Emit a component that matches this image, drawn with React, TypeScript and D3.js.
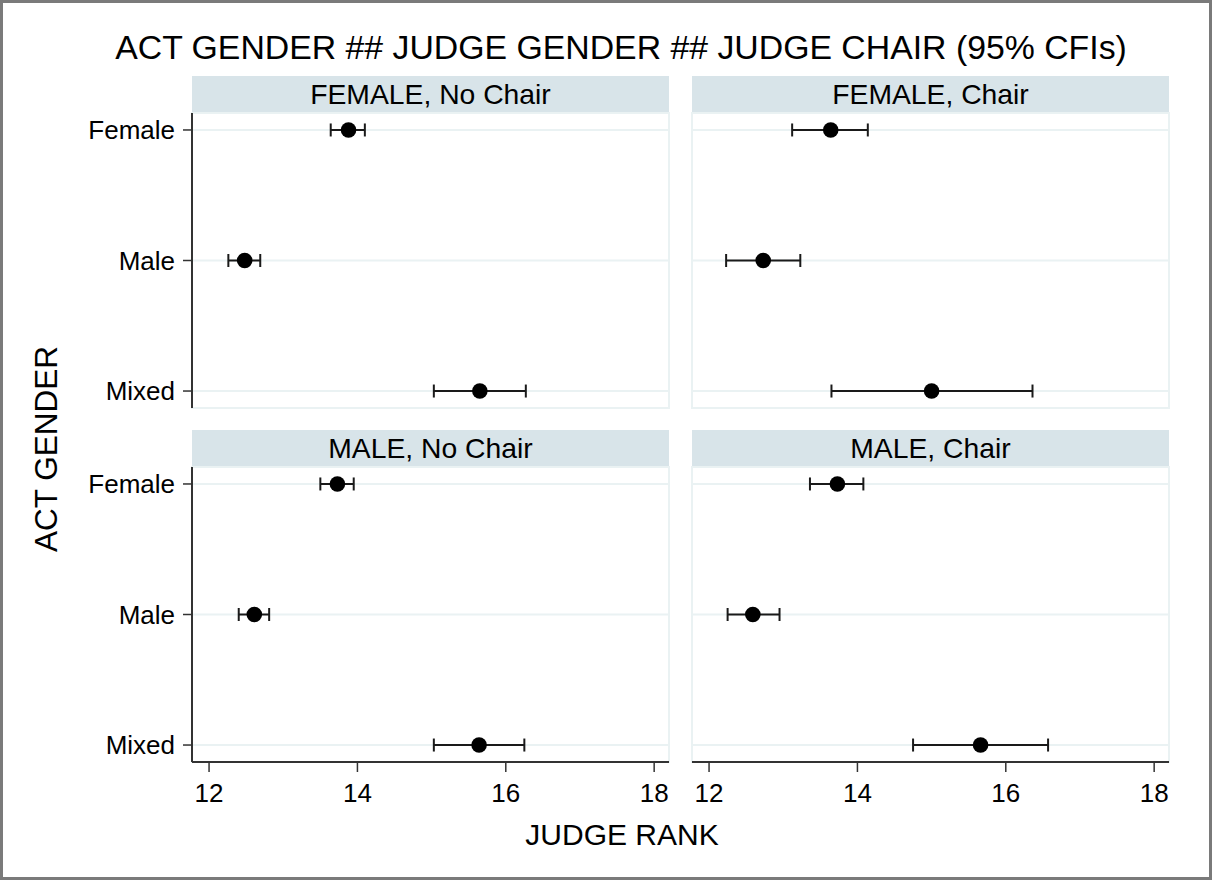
import React from "react";
import * as d3 from "d3";

const categories = ["Female", "Male", "Mixed"];
const panelTitles = ["FEMALE, No Chair", "FEMALE, Chair", "MALE, No Chair", "MALE, Chair"];
const estFemaleNoChair = [13.88, 12.48, 15.65];
const loFemaleNoChair = [13.64, 12.26, 15.03];
const hiFemaleNoChair = [14.1, 12.69, 16.27];
const estFemaleChair = [13.64, 12.73, 15.0];
const loFemaleChair = [13.12, 12.23, 13.65];
const hiFemaleChair = [14.14, 13.23, 16.36];
const estMaleNoChair = [13.73, 12.61, 15.64];
const loMaleNoChair = [13.5, 12.4, 15.03];
const hiMaleNoChair = [13.95, 12.81, 16.25];
const estMaleChair = [13.73, 12.59, 15.66];
const loMaleChair = [13.36, 12.25, 14.75];
const hiMaleChair = [14.08, 12.95, 16.57];
const xTicks = [12, 14, 16, 18];

const panelData = [
  { est: estFemaleNoChair, lo: loFemaleNoChair, hi: hiFemaleNoChair },
  { est: estFemaleChair, lo: loFemaleChair, hi: hiFemaleChair },
  { est: estMaleNoChair, lo: loMaleNoChair, hi: hiMaleNoChair },
  { est: estMaleChair, lo: loMaleChair, hi: hiMaleChair },
];

const W = 1212;
const H = 880;
const colX = [192, 692];
const panelW = 477;
const headerTop = [76, 430];
const headerH = 37;
const plotH = 295;
const FONT = "'Liberation Sans', Arial, Helvetica, sans-serif";
const GRID = "#eaf2f3";
const STRIP = "#d8e4e9";
const INK = "#1a1a1a";

export default function App() {
  const x = d3.scaleLinear().domain([11.77, 18.2]).range([0, panelW]);
  const y = d3.scalePoint<string>().domain(categories).range([0, plotH]).padding(0.13);

  const panels = panelTitles.map((title, i) => {
    const col = i % 2;
    const row = Math.floor(i / 2);
    const px = colX[col];
    const hy = headerTop[row];
    const py = hy + headerH;
    const d = panelData[i];
    return (
      <g key={title}>
        <rect x={px} y={hy} width={panelW} height={headerH} fill={STRIP} />
        <text x={px + panelW / 2} y={hy + 28} textAnchor="middle" fontSize={28.3} fill="#000">
          {title}
        </text>
        <g transform={`translate(${px},${py})`}>
          <rect x={0} y={0} width={panelW} height={plotH} fill="#fff" stroke={GRID} strokeWidth={2} />
          {categories.map((c) => (
            <line key={c} x1={0} x2={panelW} y1={y(c)} y2={y(c)} stroke={GRID} strokeWidth={2} />
          ))}
          {categories.map((c, k) => {
            const cy = y(c)!;
            return (
              <g key={"ci" + c}>
                <line x1={x(d.lo[k])} x2={x(d.hi[k])} y1={cy} y2={cy} stroke={INK} strokeWidth={2} />
                <line x1={x(d.lo[k])} x2={x(d.lo[k])} y1={cy - 6.5} y2={cy + 6.5} stroke={INK} strokeWidth={2} />
                <line x1={x(d.hi[k])} x2={x(d.hi[k])} y1={cy - 6.5} y2={cy + 6.5} stroke={INK} strokeWidth={2} />
                <circle cx={x(d.est[k])} cy={cy} r={7.8} fill="#000" />
              </g>
            );
          })}
          {col === 0 && (
            <g>
              <line x1={0} x2={0} y1={0} y2={plotH} stroke="#333" strokeWidth={2} />
              {categories.map((c) => (
                <g key={"yt" + c}>
                  <line x1={-9} x2={0} y1={y(c)} y2={y(c)} stroke="#333" strokeWidth={1.5} />
                  <text x={-17} y={y(c)} dy="0.36em" textAnchor="end" fontSize={26} fill="#000">
                    {c}
                  </text>
                </g>
              ))}
            </g>
          )}
          {row === 1 && (
            <g>
              <line x1={0} x2={panelW} y1={plotH} y2={plotH} stroke="#333" strokeWidth={2} />
              {xTicks.map((t) => (
                <g key={"xt" + t}>
                  <line x1={x(t)} x2={x(t)} y1={plotH} y2={plotH + 10} stroke="#333" strokeWidth={1.5} />
                  <text x={x(t)} y={plotH + 40} textAnchor="middle" fontSize={26} fill="#000">
                    {t}
                  </text>
                </g>
              ))}
            </g>
          )}
        </g>
      </g>
    );
  });

  return (
    <svg
      width={W}
      height={H}
      style={{ position: "absolute", left: 0, top: 0, fontFamily: FONT, background: "#fff" }}
    >
      <rect x={0} y={0} width={W} height={H} fill="#fff" />
      <rect x={1.5} y={1.5} width={W - 3} height={H - 3} fill="none" stroke="#7a7a7a" strokeWidth={3} />
      <text x={621} y={59} textAnchor="middle" fontSize={33.8} fill="#000">
        ACT GENDER ## JUDGE GENDER ## JUDGE CHAIR (95% CFIs)
      </text>
      {panels}
      <text x={622} y={845} textAnchor="middle" fontSize={30} fill="#000">
        JUDGE RANK
      </text>
      <text transform="translate(57,449) rotate(-90)" textAnchor="middle" fontSize={31.5} fill="#000">
        ACT GENDER
      </text>
    </svg>
  );
}
